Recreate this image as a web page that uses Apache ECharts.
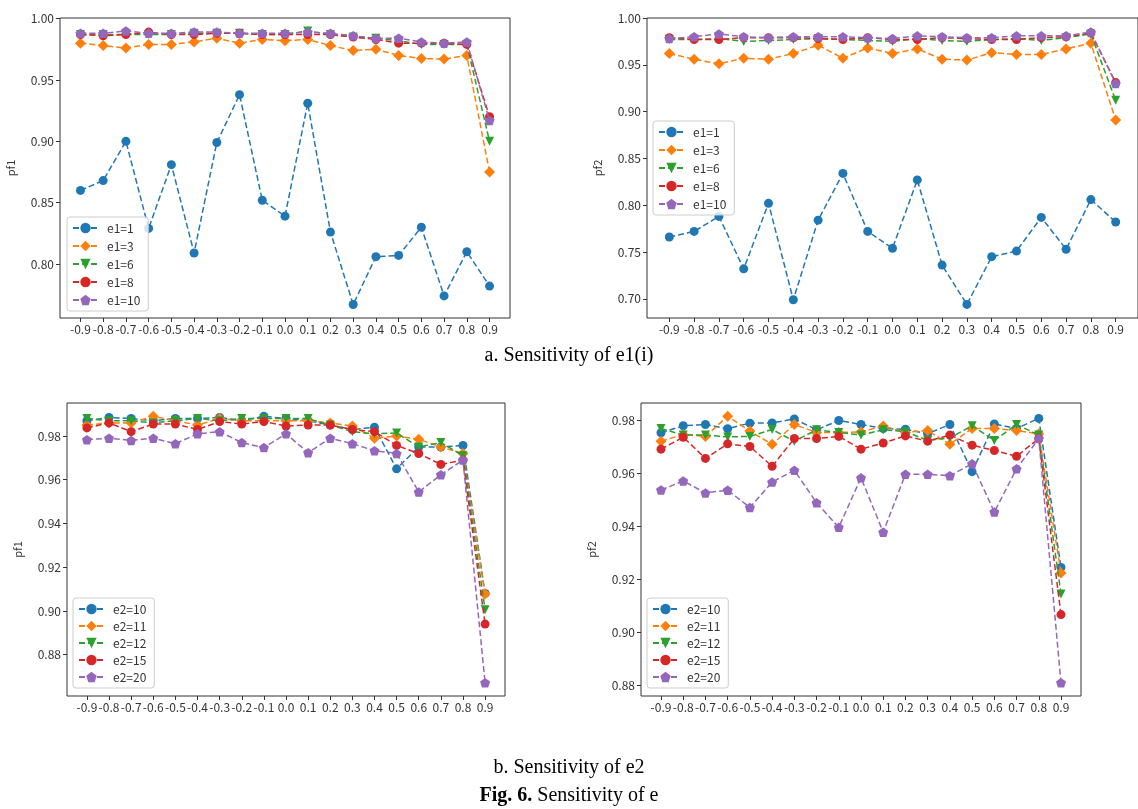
<!DOCTYPE html>
<html>
<head>
<meta charset="utf-8">
<script src="https://cdn.jsdelivr.net/npm/echarts@6/dist/echarts.min.js"></script>
<style>
  html, body { margin: 0; padding: 0; background: #fff; }
  #main { width: 1138px; height: 809px; }
</style>
</head>
<body>
<div id="main"></div>
<script>
// x 轴刻度（19 个点）
const xLabels = ['-0.9', '-0.8', '-0.7', '-0.6', '-0.5', '-0.4', '-0.3', '-0.2', '-0.1', '0.0',
                 '0.1', '0.2', '0.3', '0.4', '0.5', '0.6', '0.7', '0.8', '0.9'];

// a. 左上 pf1，e1
const pf1_e1_1  = [0.860, 0.868, 0.900, 0.829, 0.881, 0.809, 0.899, 0.938, 0.852, 0.839, 0.931, 0.826, 0.767, 0.806, 0.807, 0.830, 0.774, 0.810, 0.782];
const pf1_e1_3  = [0.980, 0.978, 0.976, 0.979, 0.979, 0.981, 0.984, 0.980, 0.983, 0.982, 0.983, 0.978, 0.974, 0.975, 0.970, 0.9675, 0.967, 0.970, 0.875];
const pf1_e1_6  = [0.987, 0.987, 0.987, 0.987, 0.987, 0.988, 0.988, 0.988, 0.987, 0.987, 0.990, 0.987, 0.985, 0.984, 0.982, 0.979, 0.979, 0.979, 0.900];
const pf1_e1_8  = [0.987, 0.986, 0.987, 0.989, 0.987, 0.987, 0.988, 0.988, 0.987, 0.987, 0.987, 0.987, 0.985, 0.983, 0.980, 0.980, 0.980, 0.979, 0.920];
const pf1_e1_10 = [0.988, 0.988, 0.990, 0.988, 0.988, 0.989, 0.989, 0.988, 0.988, 0.988, 0.989, 0.988, 0.986, 0.984, 0.984, 0.981, 0.980, 0.981, 0.917];

// a. 右上 pf2，e1
const pf2_e1_1  = [0.766, 0.772, 0.788, 0.732, 0.802, 0.699, 0.784, 0.834, 0.772, 0.754, 0.827, 0.736, 0.694, 0.745, 0.751, 0.787, 0.753, 0.806, 0.782];
const pf2_e1_3  = [0.962, 0.956, 0.951, 0.957, 0.956, 0.962, 0.971, 0.957, 0.968, 0.962, 0.967, 0.956, 0.955, 0.963, 0.961, 0.961, 0.967, 0.973, 0.891];
const pf2_e1_6  = [0.977, 0.977, 0.978, 0.975, 0.976, 0.977, 0.978, 0.977, 0.976, 0.975, 0.978, 0.976, 0.975, 0.977, 0.978, 0.976, 0.979, 0.983, 0.912];
const pf2_e1_8  = [0.979, 0.977, 0.977, 0.979, 0.979, 0.979, 0.978, 0.977, 0.979, 0.977, 0.977, 0.979, 0.978, 0.977, 0.977, 0.979, 0.980, 0.984, 0.931];
const pf2_e1_10 = [0.978, 0.980, 0.983, 0.980, 0.979, 0.980, 0.980, 0.980, 0.979, 0.978, 0.981, 0.980, 0.979, 0.979, 0.981, 0.981, 0.981, 0.985, 0.930];

// b. 左下 pf1，e2
const pf1_e2_10 = [0.987, 0.9885, 0.988, 0.987, 0.988, 0.988, 0.9885, 0.987, 0.989, 0.988, 0.987, 0.985, 0.983, 0.984, 0.965, 0.975, 0.975, 0.9757, 0.908];
const pf1_e2_11 = [0.985, 0.986, 0.986, 0.989, 0.987, 0.985, 0.988, 0.987, 0.987, 0.987, 0.987, 0.986, 0.9846, 0.979, 0.980, 0.9785, 0.975, 0.972, 0.9077];
const pf1_e2_12 = [0.988, 0.987, 0.987, 0.986, 0.987, 0.988, 0.987, 0.988, 0.988, 0.988, 0.988, 0.985, 0.982, 0.981, 0.9814, 0.975, 0.977, 0.971, 0.9006];
const pf1_e2_15 = [0.9837, 0.986, 0.982, 0.9855, 0.9855, 0.983, 0.9866, 0.9855, 0.9866, 0.9846, 0.985, 0.985, 0.983, 0.982, 0.9757, 0.972, 0.967, 0.969, 0.894];
const pf1_e2_20 = [0.9783, 0.979, 0.978, 0.979, 0.9765, 0.981, 0.982, 0.977, 0.9747, 0.981, 0.9724, 0.979, 0.9765, 0.9733, 0.972, 0.9544, 0.9623, 0.969, 0.8672];

// b. 右下 pf2，e2
const pf2_e2_10 = [0.9754, 0.978, 0.9785, 0.9769, 0.979, 0.9791, 0.9806, 0.9765, 0.980, 0.9785, 0.977, 0.9767, 0.975, 0.9785, 0.9607, 0.9787, 0.977, 0.9808, 0.9246];
const pf2_e2_11 = [0.9722, 0.9747, 0.974, 0.9816, 0.976, 0.971, 0.9785, 0.9755, 0.9755, 0.9757, 0.9779, 0.9755, 0.9762, 0.971, 0.977, 0.977, 0.9762, 0.975, 0.9225];
const pf2_e2_12 = [0.9770, 0.9745, 0.9745, 0.9738, 0.974, 0.9766, 0.9722, 0.9765, 0.9755, 0.9745, 0.9765, 0.9758, 0.9725, 0.9735, 0.978, 0.9725, 0.9785, 0.9745, 0.9146];
const pf2_e2_15 = [0.9692, 0.9737, 0.9657, 0.9712, 0.9702, 0.9627, 0.9732, 0.9732, 0.974, 0.9692, 0.9715, 0.9742, 0.9722, 0.9745, 0.9707, 0.9687, 0.9665, 0.9732, 0.9068];
const pf2_e2_20 = [0.9538, 0.9572, 0.9527, 0.9537, 0.9472, 0.9568, 0.9612, 0.949, 0.9397, 0.9584, 0.9379, 0.9597, 0.9597, 0.9592, 0.9637, 0.9455, 0.9618, 0.9732, 0.8811];

// 图例名
const e1Names = ['e1=1', 'e1=3', 'e1=6', 'e1=8', 'e1=10'];
const e2Names = ['e2=10', 'e2=11', 'e2=12', 'e2=15', 'e2=20'];

// y 轴刻度
const yTicks1 = [0.80, 0.85, 0.90, 0.95, 1.00];
const yTicks2 = [0.70, 0.75, 0.80, 0.85, 0.90, 0.95, 1.00];
const yTicks3 = [0.88, 0.90, 0.92, 0.94, 0.96, 0.98];
const yTicks4 = [0.88, 0.90, 0.92, 0.94, 0.96, 0.98];

const xVals = xLabels.map(Number);
const tickFont = 'Noto Sans CJK SC';
const pentagon = 'path://M50,0L97.6,34.5L79.4,90.5L20.6,90.5L2.4,34.5Z';

const marks = [
    { color: '#1f77b4', symbol: 'circle', size: 9, rot: 0 },
    { color: '#ff7f0e', symbol: 'diamond', size: 11, rot: 0 },
    { color: '#2ca02c', symbol: 'triangle', size: 9, rot: 180 },
    { color: '#d62728', symbol: 'circle', size: 9, rot: 0 },
    { color: '#9467bd', symbol: pentagon, size: 10, rot: 0 }
];

// 每个子图的位置
const grids = [
    { left: 60,  top: 18,  width: 450, height: 300 },
    { left: 647, top: 18,  width: 497, height: 300 },
    { left: 67,  top: 403, width: 438, height: 293 },
    { left: 641, top: 403, width: 440, height: 293 }
];
const yRanges = [[0.756, 1.0005], [0.6795, 1.0], [0.8611, 0.9951], [0.8761, 0.9866]];
const yTickSets = [yTicks1, yTicks2, yTicks3, yTicks4];
const yNames = ['pf1', 'pf2', 'pf1', 'pf2'];
const panelData = [
    [pf1_e1_1, pf1_e1_3, pf1_e1_6, pf1_e1_8, pf1_e1_10],
    [pf2_e1_1, pf2_e1_3, pf2_e1_6, pf2_e1_8, pf2_e1_10],
    [pf1_e2_10, pf1_e2_11, pf1_e2_12, pf1_e2_15, pf1_e2_20],
    [pf2_e2_10, pf2_e2_11, pf2_e2_12, pf2_e2_15, pf2_e2_20]
];
const panelNames = [e1Names, e1Names, e2Names, e2Names];
const legendPos = [
    { left: 67,  top: 217, gap: 6 },
    { left: 653, top: 121, gap: 6 },
    { left: 73,  top: 598, gap: 5 },
    { left: 647, top: 598, gap: 5 }
];

const xLabelOf = function (v) {
    for (let i = 0; i < xVals.length; i++) {
        if (Math.abs(xVals[i] - v) < 1e-6) return xLabels[i];
    }
    return '';
};

const series = [];
panelData.forEach(function (lines, p) {
    lines.forEach(function (ys, k) {
        const m = marks[k];
        series.push({
            type: 'line',
            name: panelNames[p][k],
            xAxisIndex: p,
            yAxisIndex: p,
            data: xVals.map((x, i) => [x, ys[i]]),
            symbol: m.symbol,
            symbolSize: m.size,
            symbolRotate: m.rot,
            symbolKeepAspect: true,
            color: m.color,
            itemStyle: { color: m.color },
            lineStyle: { color: m.color, width: 1.5, type: [6, 3] },
            z: 2 + k
        });
    });
});

const option = {
    animation: false,
    backgroundColor: '#fff',
    title: [
        {
            text: 'a. Sensitivity of e1(i)',
            left: 'center', top: 341,
            textStyle: { fontFamily: 'Liberation Serif', fontSize: 20, fontWeight: 'normal', color: '#000' }
        },
        {
            text: 'b. Sensitivity of e2',
            left: 'center', top: 753,
            textStyle: { fontFamily: 'Liberation Serif', fontSize: 20, fontWeight: 'normal', color: '#000' }
        },
        {
            text: '{b|Fig. 6.} Sensitivity of e',
            left: 'center', top: 781,
            textStyle: {
                fontFamily: 'Liberation Serif', fontSize: 20, fontWeight: 'normal', color: '#000',
                rich: { b: { fontFamily: 'Liberation Serif', fontSize: 20, fontWeight: 'bold', color: '#000' } }
            }
        }
    ],
    grid: grids.map(g => Object.assign({ show: true, borderColor: '#333', borderWidth: 1, containLabel: false }, g)),
    legend: legendPos.map(function (pos, p) {
        return {
            left: pos.left, top: pos.top,
            orient: 'vertical',
            data: panelNames[p],
            itemWidth: 25, itemHeight: 13, itemGap: pos.gap,
            padding: [5, 8, 5, 5],
            backgroundColor: 'rgba(255,255,255,0.8)',
            borderColor: '#ccc', borderWidth: 1, borderRadius: 3,
            textStyle: { fontFamily: tickFont, fontSize: 12, color: '#333', padding: [0, 0, 0, 4] },
            selectedMode: false
        };
    }),
    xAxis: grids.map(function (g, p) {
        return {
            type: 'value', gridIndex: p,
            min: -0.99, max: 0.99,
            position: 'bottom',
            axisLine: { show: false, onZero: false },
            splitLine: { show: false },
            axisTick: { show: true, customValues: xVals, length: 4, lineStyle: { color: '#333' } },
            axisLabel: {
                customValues: xVals, margin: 5,
                fontFamily: tickFont, fontSize: 12, color: '#333',
                formatter: xLabelOf
            }
        };
    }),
    yAxis: grids.map(function (g, p) {
        return {
            type: 'value', gridIndex: p,
            min: yRanges[p][0], max: yRanges[p][1],
            position: 'left',
            axisLine: { show: false, onZero: false },
            splitLine: { show: false },
            axisTick: { show: true, customValues: yTickSets[p], length: 4, lineStyle: { color: '#333' } },
            axisLabel: {
                customValues: yTickSets[p], margin: 6,
                fontFamily: tickFont, fontSize: 12, color: '#333',
                formatter: v => v.toFixed(2)
            },
            name: yNames[p], nameLocation: 'middle', nameRotate: 90, nameGap: 44,
            nameTextStyle: { fontFamily: tickFont, fontSize: 11, color: '#333' }
        };
    }),
    series: series
};

const chart = echarts.init(document.getElementById('main'), null, { renderer: 'canvas' });
chart.setOption(option);
</script>
</body>
</html>
